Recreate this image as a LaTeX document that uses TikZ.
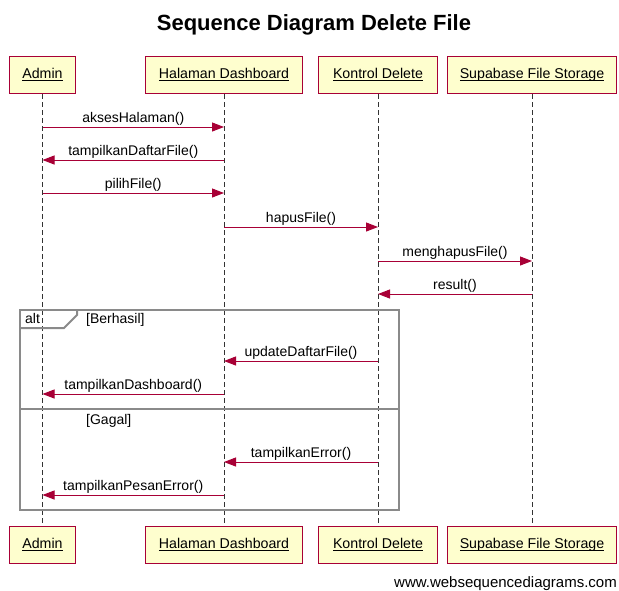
\documentclass[tikz,border=0pt]{standalone}
\usepackage{fontspec}
\setmainfont{Liberation Sans}
\usetikzlibrary{arrows.meta}
\definecolor{actorfill}{HTML}{FEFECE}
\definecolor{crimson}{HTML}{A80036}
\definecolor{framegray}{HTML}{8A8A8A}
\tikzset{
  actor/.style={draw=crimson, line width=1pt, fill=actorfill, minimum height=37pt,
    inner sep=0pt, text height=10pt, text depth=3pt,
    font=\fontsize{14.2}{16}\selectfont, anchor=north west},
  lifeline/.style={draw=black!80, line width=0.9pt, dash pattern=on 5pt off 3pt},
  msg/.style={draw=crimson, line width=1pt, -{Triangle[length=12pt,width=9pt]}},
  msglabel/.style={font=\fontsize{14}{16}\selectfont, inner sep=0pt, anchor=base, yshift=5pt},
  frameline/.style={draw=framegray, line width=2pt},
  guard/.style={font=\fontsize{14}{16}\selectfont, inner sep=0pt, anchor=base west},
}
% participant name with an underline at a fixed depth below the baseline
\newcommand{\actorname}[1]{\setbox0=\hbox{#1}\rlap{\rule[-2pt]{\wd0}{0.8pt}}\box0}
\begin{document}
\begin{tikzpicture}[x=1pt, y=-1pt]
\useasboundingbox[fill=white] (0,0) rectangle (619,590);

% title
\node[font=\fontsize{22}{26}\selectfont\bfseries, anchor=base] (title) at (314,30) {Sequence Diagram Delete File};

% participants, top row
\node[actor, minimum width=66pt]  (adm)  at (9,56)   {\actorname{Admin}};
\node[actor, minimum width=157pt] (hal)  at (145,56) {\actorname{Halaman Dashboard}};
\node[actor, minimum width=119pt] (kon)  at (318,56) {\actorname{Kontrol Delete}};
\node[actor, minimum width=169pt] (sup)  at (447,56) {\actorname{Supabase File Storage}};

% participants, bottom row
\node[actor, minimum width=66pt]  (admB) at (9,526)   {\actorname{Admin}};
\node[actor, minimum width=157pt] (halB) at (145,526) {\actorname{Halaman Dashboard}};
\node[actor, minimum width=119pt] (konB) at (318,526) {\actorname{Kontrol Delete}};
\node[actor, minimum width=169pt] (supB) at (447,526) {\actorname{Supabase File Storage}};

% lifelines
\foreach \p in {adm,hal,kon,sup}{
  \draw[lifeline] (\p.south) -- (\p B.north);
}

% alt frame
\draw[frameline] (20,310) rectangle (399,510);
\draw[frameline] (20,328) -- (64,328) -- (77,315) -- (77,310);
\draw[draw=framegray, line width=1.5pt] (20,409) -- (399,409);
\node[guard] (altlbl) at (25,323) {alt};
\node[guard] (g1) at (86,323) {[Berhasil]};
\node[guard] (g2) at (86,424) {[Gagal]};

% message anchor points on the lifelines
\foreach \p in {adm,hal,kon,sup}{
  \foreach \n/\y in {1/127,2/160,3/193,4/227,5/261,6/294,7/361,8/394,9/462,10/495}{
    \coordinate (\p\n) at (\p.south |- 0,\y);
  }
}

% messages
\draw[msg] (adm1) -- node[msglabel] {aksesHalaman()} (hal1);
\draw[msg] (hal2) -- node[msglabel] {tampilkanDaftarFile()} (adm2);
\draw[msg] (adm3) -- node[msglabel] {pilihFile()} (hal3);
\draw[msg] (hal4) -- node[msglabel] {hapusFile()} (kon4);
\draw[msg] (kon5) -- node[msglabel] {menghapusFile()} (sup5);
\draw[msg] (sup6) -- node[msglabel] {result()} (kon6);
\draw[msg] (kon7) -- node[msglabel] {updateDaftarFile()} (hal7);
\draw[msg] (hal8) -- node[msglabel] {tampilkanDashboard()} (adm8);
\draw[msg] (kon9) -- node[msglabel] {tampilkanError()} (hal9);
\draw[msg] (hal10) -- node[msglabel] {tampilkanPesanError()} (adm10);

% footer
\node[font=\fontsize{15}{18}\selectfont, anchor=base east, inner sep=0pt] (footer) at (617,587) {www.websequencediagrams.com};
\end{tikzpicture}
\end{document}
